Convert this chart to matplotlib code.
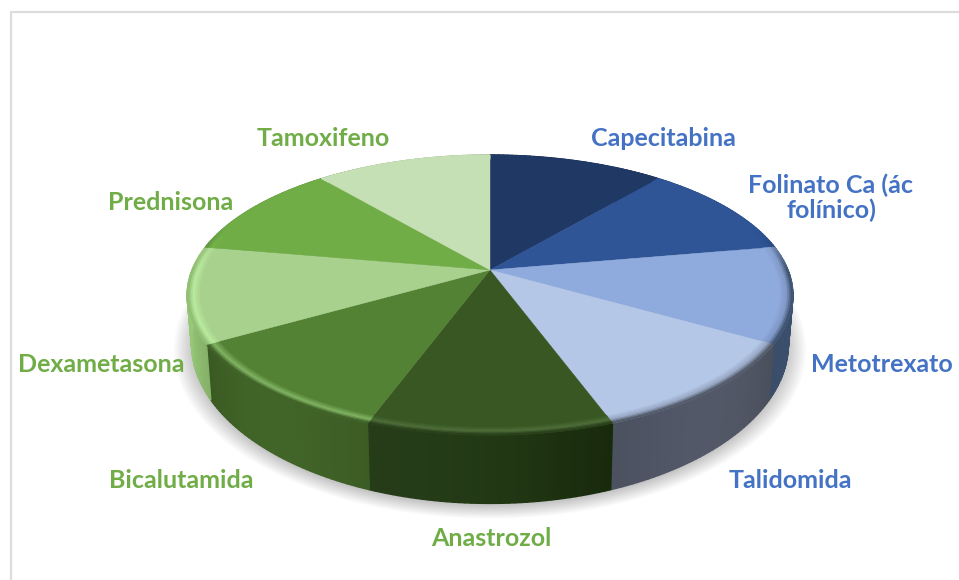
# coding:utf-8
# pie 3D hecho a mano, matplotlib no tiene pie con perspectiva
import numpy as np
import matplotlib
matplotlib.use("Agg")
import matplotlib.pyplot as plt
from matplotlib.collections import PolyCollection
from matplotlib.colors import to_rgb

labels = ["Capecitabina", "Folinato Ca (ác\nfolínico)", "Metotrexato", "Talidomida",
          "Anastrozol", "Bicalutamida", "Dexametasona", "Prednisona", "Tamoxifeno"]
values = [1, 1, 1, 1, 1, 1, 1, 1, 1]

top_colors = ["#1F3864", "#2F5597", "#8FAADC", "#B4C7E7", "#385723",
              "#548235", "#A9D18E", "#70AD47", "#C5E0B4"]
rim_colors = ["#1F3864", "#2A4C88", "#7F98C6", "#98A8C4", "#4F6F3A",
              "#82B564", "#B9EC9E", "#7DBB53", "#C5E0B4"]
side_a = ["#16284A", "#223E70", "#3A4D69", "#4B515F", "#263C19",
          "#3A5A23", "#8DBA70", "#4F7C33", "#8FA67F"]
side_b = ["#16284A", "#223E70", "#2F405A", "#4A4F5C", "#182A0C",
          "#3C5C25", "#86B169", "#4F7C33", "#8FA67F"]
text_colors = ["#4472C4"] * 4 + ["#70AD47"] * 5
label_pos = [(663, 139), (831, 198), (882, 364), (790, 480), (491, 538),
             (181, 480), (101, 364), (171, 202), (323, 139)]

cx, cy = 490, 270
A, B, k = 298, 135.6, 0.179
H = 46


def top_xy(t, r=1.0):
    # t en grados, horario desde arriba
    X = r * np.sin(np.radians(t))
    Y = r * np.cos(np.radians(t))
    w = 1 + k * Y
    return cx + A * X / w, cy - B * Y / w


def bottom_xy(t, r=1.0):
    X = r * np.sin(np.radians(t))
    Y = r * np.cos(np.radians(t))
    w = 1 + k * Y
    return cx + 0.985 * A * X / w, cy - B * Y / w + H / w ** 2


def mix(c1, c2, f):
    c1, c2 = np.array(to_rgb(c1)), np.array(to_rgb(c2))
    return tuple(c1 + (c2 - c1) * f)


plt.rcParams["font.family"] = ["Lato", "DejaVu Sans"]
fig = plt.figure(figsize=(9.59, 5.80), dpi=100)
ax = fig.add_axes([0, 0, 1, 1])
ax.set_xlim(0, 959)
ax.set_ylim(580, 0)
ax.axis("off")

# borde del grafico
ax.plot([11, 11, 959], [580, 12, 12], color="#DDDDDD", lw=1.6, zorder=1)

edges = np.cumsum([0] + values) / sum(values) * 360

# sombra
tt = np.linspace(0, 360, 361)
for s in np.linspace(1.06, 0.99, 16):
    bx, by = bottom_xy(tt)
    sx = cx + (bx - cx) * s
    sy = cy + 30 + (by - cy - 30) * s + 3
    ax.fill(sx, sy, color="#000000", alpha=0.014, lw=0, zorder=2)

for i in range(len(values)):
    t0, t1 = edges[i], edges[i + 1]
    ts = np.linspace(t0, t1, 41)

    # lateral
    polys, cols = [], []
    for j in range(len(ts) - 1):
        tx0, ty0 = top_xy(ts[j])
        tx1, ty1 = top_xy(ts[j + 1])
        bx0, by0 = bottom_xy(ts[j])
        bx1, by1 = bottom_xy(ts[j + 1])
        polys.append([(tx0, ty0), (tx1, ty1), (bx1, by1), (bx0, by0)])
        f = j / (len(ts) - 2)
        c = np.array(mix(side_b[i], side_a[i], f))
        cols.append(tuple(np.clip(c * (1 + 0.10 * np.sin(np.pi * f)), 0, 1)))
    ax.add_collection(PolyCollection(polys, facecolors=cols, edgecolors=cols, lw=1.0, zorder=3))

    # cara de arriba
    rx, ry = top_xy(ts)
    ax.fill(np.r_[cx, rx], np.r_[cy, ry], color=top_colors[i], lw=0.3, zorder=4)

    # bisel del borde, solo se nota en la parte de delante
    rr = np.linspace(0.955, 1.0, 9)
    polys, cols = [], []
    for n in range(len(rr) - 1):
        f = n / (len(rr) - 2)
        if f < 0.6:
            c = mix(top_colors[i], rim_colors[i], f / 0.6)
        else:
            c = mix(rim_colors[i], side_a[i], (f - 0.6) / 0.4 * 0.9)
        for j in range(len(ts) - 1):
            x00, y00 = top_xy(ts[j], rr[n])
            x01, y01 = top_xy(ts[j + 1], rr[n])
            x11, y11 = top_xy(ts[j + 1], rr[n + 1])
            x10, y10 = top_xy(ts[j], rr[n + 1])
            polys.append([(x00, y00), (x01, y01), (x11, y11), (x10, y10)])
            g = np.clip(1 - 3 * np.cos(np.radians(ts[j])), 0, 1)
            cols.append(mix(top_colors[i], c, g))
    ax.add_collection(PolyCollection(polys, facecolors=cols, edgecolors=cols, lw=0.6, zorder=5))

for lab, pos, col in zip(labels, label_pos, text_colors):
    ax.text(pos[0], pos[1], lab, color=col, fontsize=18, fontweight="bold",
            ha="center", va="center", linespacing=1.1, zorder=6)

plt.savefig("out.png", dpi=100)
